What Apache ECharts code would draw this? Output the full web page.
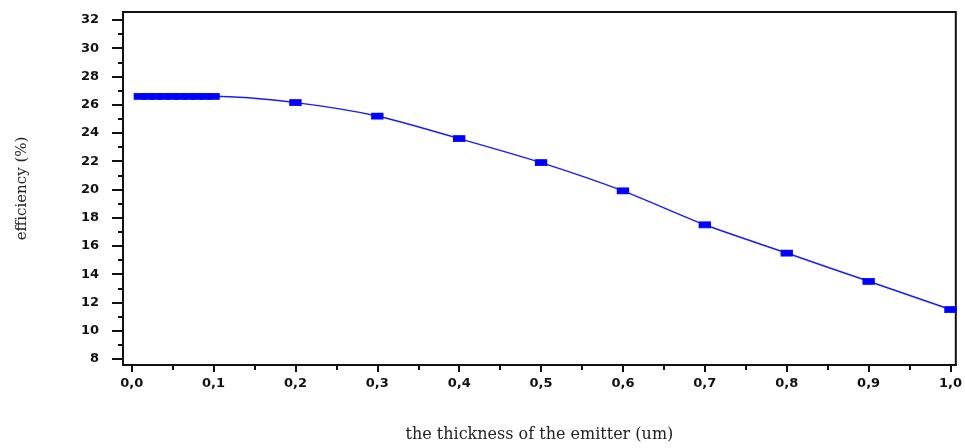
<!DOCTYPE html>
<html>
<head>
<meta charset="utf-8">
<script src="https://cdn.jsdelivr.net/npm/echarts@6/dist/echarts.min.js"></script>
<style>
html,body{margin:0;padding:0;background:#fff;}
#chart{width:965px;height:448px;}
</style>
</head>
<body>
<div id="chart"></div>
<script>
// Data
var thickness = [0.01, 0.02, 0.03, 0.04, 0.05, 0.06, 0.07, 0.08, 0.09, 0.10, 0.2, 0.3, 0.4, 0.5, 0.6, 0.7, 0.8, 0.9, 1.0];
var efficiency = [26.6, 26.6, 26.6, 26.6, 26.6, 26.6, 26.6, 26.6, 26.6, 26.6, 26.15, 25.2, 23.6, 21.9, 19.9, 17.5, 15.5, 13.5, 11.5];

var xTickValues = [0, 0.1, 0.2, 0.3, 0.4, 0.5, 0.6, 0.7, 0.8, 0.9, 1.0];
var xTickLabels = ['0,0', '0,1', '0,2', '0,3', '0,4', '0,5', '0,6', '0,7', '0,8', '0,9', '1,0'];
var xMinorTicks = [0.05, 0.15, 0.25, 0.35, 0.45, 0.55, 0.65, 0.75, 0.85, 0.95];
var yTickValues = [8, 10, 12, 14, 16, 18, 20, 22, 24, 26, 28, 30, 32];
var yMinorTicks = [9, 11, 13, 15, 17, 19, 21, 23, 25, 27, 29, 31];

var xTitle = 'the thickness of the emitter (um)';
var yTitle = 'efficiency (%)';

var points = thickness.map(function (t, i) { return [t, efficiency[i]]; });

var X_MIN = -0.0106, X_MAX = 1.0065;
var Y_MIN = 7.575, Y_MAX = 32.566;
var ink = '#111';
var labelFont = { fontFamily: 'DejaVu Sans', fontWeight: 'bold', fontSize: 13, color: ink };

var chart = echarts.init(document.getElementById('chart'), null, { renderer: 'canvas' });
chart.setOption({
  backgroundColor: '#ffffff',
  animation: false,
  grid: { left: 123, right: 8, top: 12, bottom: 83, show: true, borderColor: ink, borderWidth: 2, backgroundColor: 'transparent' },
  xAxis: [
    {
      type: 'value', min: X_MIN, max: X_MAX, position: 'bottom',
      name: xTitle, nameLocation: 'middle', nameGap: 62,
      nameTextStyle: { fontFamily: 'DejaVu Serif', fontSize: 16, color: '#222' },
      axisLine: { show: true, onZero: false, lineStyle: { color: ink, width: 2 } },
      axisTick: { show: true, customValues: xTickValues, length: 7, inside: false, lineStyle: { color: ink, width: 2 } },
      axisLabel: {
        customValues: xTickValues, margin: 12,
        fontFamily: labelFont.fontFamily, fontWeight: labelFont.fontWeight, fontSize: labelFont.fontSize, color: labelFont.color,
        formatter: function (v) { return xTickLabels[Math.round(v * 10)]; }
      },
      splitLine: { show: false }
    },
    {
      type: 'value', min: X_MIN, max: X_MAX, position: 'bottom', offset: 0,
      axisLine: { show: false, onZero: false },
      axisTick: { show: true, customValues: xMinorTicks, length: 5, inside: false, lineStyle: { color: ink, width: 2 } },
      axisLabel: { show: false },
      splitLine: { show: false }
    }
  ],
  yAxis: [
    {
      type: 'value', min: Y_MIN, max: Y_MAX, position: 'left',
      name: yTitle, nameLocation: 'middle', nameGap: 93,
      nameTextStyle: { fontFamily: 'DejaVu Serif', fontSize: 15, color: '#222' },
      axisLine: { show: true, onZero: false, lineStyle: { color: ink, width: 2 } },
      axisTick: { show: true, customValues: yTickValues, length: 11, inside: false, lineStyle: { color: ink, width: 2 } },
      axisLabel: {
        customValues: yTickValues, margin: 24,
        fontFamily: labelFont.fontFamily, fontWeight: labelFont.fontWeight, fontSize: labelFont.fontSize, color: labelFont.color
      },
      splitLine: { show: false }
    },
    {
      type: 'value', min: Y_MIN, max: Y_MAX, position: 'left', offset: 0,
      axisLine: { show: false, onZero: false },
      axisTick: { show: true, customValues: yMinorTicks, length: 5, inside: false, lineStyle: { color: ink, width: 2 } },
      axisLabel: { show: false },
      splitLine: { show: false }
    }
  ],
  series: [{
    type: 'line',
    xAxisIndex: 0, yAxisIndex: 0,
    data: points,
    smooth: 0.25,
    symbol: 'rect',
    symbolSize: [11, 6],
    showSymbol: true,
    itemStyle: { color: '#0000ff', borderColor: '#0000ff', borderWidth: 1 },
    lineStyle: { color: '#1a1aff', width: 1.5 }
  }]
});
</script>
</body>
</html>
